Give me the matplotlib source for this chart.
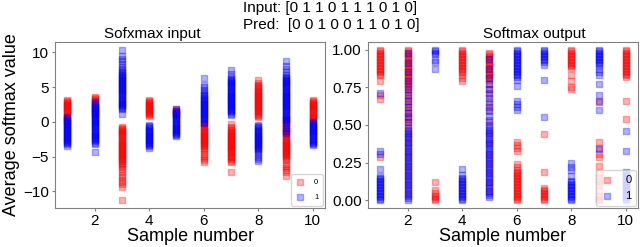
import numpy as np
import matplotlib.pyplot as plt

plt.rcParams['font.family'] = ['Liberation Sans', 'DejaVu Sans']

samples = [1, 2, 3, 4, 5, 6, 7, 8, 9, 10]
true_labels = [0, 1, 1, 0, 1, 1, 1, 0, 1, 0]
pred_labels = [0, 0, 1, 0, 0, 1, 1, 0, 1, 0]

# softmax input (logits) per sample, class 0
logit_0 = [
    [3.1, 3.0, 2.85, 2.7, 2.55, 2.4, 2.25, 2.1, 1.95, 1.8, 1.65, 1.5, 1.35, 1.2, 1.05,
     0.9, 0.75, 0.6, 0.45, 0.3, 0.15, 0.0],
    [3.6, 3.4, 3.25, 3.1, 2.95, 2.8, 2.65, 2.5, 2.35, 2.2, 2.05, 1.9, 1.7, 1.5, 1.3, 1.1],
    [-0.7, -0.9, -1.05, -1.2, -1.35, -1.5, -1.65, -1.8, -1.95, -2.1, -2.25, -2.4, -2.55,
     -2.7, -2.85, -3.0, -3.15, -3.3, -3.45, -3.6, -3.75, -3.9, -4.05, -4.2, -4.35, -4.5,
     -4.65, -4.8, -4.95, -5.1, -5.25, -5.4, -5.55, -5.7, -5.85, -6.0, -6.2, -6.5, -6.8,
     -7.2, -7.6, -8.0, -8.4, -8.6, -8.9, -9.3, -11.3],
    [3.2, 3.05, 2.9, 2.75, 2.6, 2.45, 2.3, 2.15, 2.0, 1.85, 1.7, 1.55, 1.4, 1.25, 1.1,
     0.95, 0.8],
    [1.9, 1.75, 1.6, 1.45, 1.3, 1.15, 1.0],
    [-0.2, -0.35, -0.5, -0.65, -0.8, -0.95, -1.1, -1.25, -1.4, -1.55, -1.7, -1.85, -2.0,
     -2.15, -2.3, -2.45, -2.6, -2.75, -2.9, -3.05, -3.2, -3.35, -3.5, -3.7, -3.9, -4.2,
     -4.6, -4.9, -5.2, -5.5, -5.8],
    [-0.3, -0.8, -0.95, -1.1, -1.25, -1.4, -1.55, -1.7, -1.85, -2.0, -2.15, -2.3, -2.45,
     -2.6, -2.75, -2.9, -3.05, -3.2, -3.35, -3.5, -3.65, -3.8, -3.95, -4.1, -4.25, -4.4,
     -4.55, -4.7, -4.85, -5.0, -5.2, -5.4, -5.6, -5.8, -7.2],
    [6.0, 5.6, 5.3, 5.1, 4.95, 4.8, 4.65, 4.5, 4.35, 4.2, 4.05, 3.9, 3.75, 3.6, 3.45,
     3.3, 3.15, 3.0, 2.85, 2.7, 2.55, 2.4, 2.25, 2.1, 1.95, 1.8, 1.65, 1.5, 1.35, 1.2,
     1.05, 0.9, 0.7],
    [0.4, 0.1, -0.2, -0.5, -0.7, -0.9, -1.05, -1.2, -1.35, -1.5, -1.65, -1.8, -1.95,
     -2.1, -2.25, -2.4, -2.55, -2.7, -2.85, -3.0, -3.15, -3.3, -3.45, -3.6, -3.75, -3.9,
     -4.05, -4.2, -4.35, -4.5, -4.65, -4.8, -4.95, -5.1, -5.3, -5.5, -6.0, -6.3, -6.6,
     -6.9, -7.2, -7.8],
    [3.2, 3.0, 2.85, 2.7, 2.55, 2.4, 2.25, 2.1, 1.95, 1.8, 1.65, 1.5, 1.35, 1.2, 1.05,
     0.9, 0.75, 0.6, 0.45, 0.3, 0.15],
]

# softmax input (logits) per sample, class 1
logit_1 = [
    [0.7, 0.5, 0.3, 0.1, -0.1, -0.25, -0.4, -0.55, -0.7, -0.85, -1.0, -1.15, -1.3, -1.45,
     -1.6, -1.75, -1.9, -2.05, -2.2, -2.35, -2.5, -2.65, -2.8, -2.95, -3.1, -3.25, -3.5],
    [2.9, 2.6, 2.4, 2.2, 2.0, 1.8, 1.6, 1.45, 1.3, 1.15, 1.0, 0.85, 0.7, 0.55, 0.4, 0.25,
     0.1, -0.05, -0.2, -0.35, -0.5, -0.65, -0.8, -0.95, -1.1, -1.25, -1.4, -1.55, -1.7,
     -1.85, -2.0, -2.15, -2.3, -2.45, -2.6, -2.8, -3.0, -3.2, -4.4],
    [10.4, 9.5, 9.0, 8.8, 8.3, 7.9, 7.6, 7.3, 7.1, 6.95, 6.8, 6.65, 6.5, 6.35, 6.2, 6.05,
     5.9, 5.75, 5.6, 5.45, 5.3, 5.15, 5.0, 4.85, 4.7, 4.55, 4.4, 4.25, 4.1, 3.95, 3.8,
     3.65, 3.5, 3.35, 3.2, 3.05, 2.9, 2.75, 2.6, 2.45, 2.3, 2.15, 2.0, 1.8, 1.1],
    [-0.5, -0.65, -0.8, -0.95, -1.1, -1.25, -1.4, -1.55, -1.7, -1.85, -2.0, -2.15, -2.3,
     -2.45, -2.6, -2.75, -2.9, -3.05, -3.2, -3.35, -3.5, -3.7],
    [1.8, 1.6, 1.4, 1.25, 1.1, 0.95, 0.8, 0.65, 0.5, 0.35, 0.2, 0.05, -0.1, -0.25, -0.4,
     -0.55, -0.7, -0.85, -1.0, -1.15, -1.3, -1.45, -1.6, -1.75, -1.9, -2.1],
    [6.3, 5.3, 5.0, 4.6, 4.3, 4.0, 3.8, 3.65, 3.5, 3.35, 3.2, 3.05, 2.9, 2.75, 2.6, 2.45,
     2.3, 2.15, 2.0, 1.85, 1.7, 1.55, 1.4, 1.25, 1.1, 0.95, 0.8, 0.65, 0.5, 0.35, 0.2,
     0.05, -0.1],
    [7.4, 6.9, 6.5, 6.2, 6.0, 5.85, 5.7, 5.55, 5.4, 5.25, 5.1, 4.95, 4.8, 4.65, 4.5, 4.35,
     4.2, 4.05, 3.9, 3.75, 3.6, 3.45, 3.3, 3.15, 3.0, 2.85, 2.7, 2.55, 2.4, 2.25, 2.1,
     1.95, 1.8, 1.65, 1.5, 1.35, 1.2, 1.0],
    [-0.5, -0.65, -0.8, -0.95, -1.1, -1.25, -1.4, -1.55, -1.7, -1.85, -2.0, -2.15, -2.3,
     -2.45, -2.6, -2.75, -2.9, -3.05, -3.2, -3.35, -3.5, -3.65, -3.8, -3.95, -4.1, -4.3,
     -4.6, -5.0, -5.4, -5.7],
    [8.7, 8.1, 7.6, 7.2, 6.8, 6.5, 6.3, 6.15, 6.0, 5.85, 5.7, 5.55, 5.4, 5.25, 5.1, 4.95,
     4.8, 4.65, 4.5, 4.35, 4.2, 4.05, 3.9, 3.75, 3.6, 3.45, 3.3, 3.15, 3.0, 2.85, 2.7,
     2.55, 2.4, 2.25, 2.1, 1.95, 1.8, 1.65, 1.5, 1.35, 1.2, 1.05, 0.9, 0.75, 0.6, 0.45,
     0.3, 0.1, -0.2, -0.5, -0.9, -1.3, -1.6],
    [0.0, -0.15, -0.3, -0.45, -0.6, -0.75, -0.9, -1.05, -1.2, -1.35, -1.5, -1.65, -1.8,
     -1.95, -2.1, -2.25, -2.4, -2.55, -2.7, -2.85, -3.0, -3.15, -3.3],
]

# softmax output per sample, class 0
prob_0 = [
    [1.0, 0.99, 0.98, 0.97, 0.96, 0.95, 0.94, 0.93, 0.92, 0.91, 0.90, 0.89, 0.88, 0.87,
     0.86, 0.85, 0.84, 0.83, 0.79, 0.70, 0.67, 0.29],
    [1.0, 0.99, 0.98, 0.97, 0.96, 0.95, 0.94, 0.93, 0.92, 0.91, 0.90, 0.89, 0.88, 0.87,
     0.86, 0.85, 0.84, 0.83, 0.82, 0.81, 0.80, 0.79, 0.78, 0.77, 0.76, 0.75, 0.74, 0.72,
     0.70, 0.68, 0.66, 0.64, 0.62, 0.60, 0.58, 0.56, 0.54, 0.52, 0.50, 0.46, 0.42, 0.38,
     0.33, 0.28, 0.22, 0.17, 0.11, 0.05],
    [0.12, 0.07, 0.05, 0.03, 0.02, 0.01, 0.0],
    [1.0, 0.99, 0.98, 0.97, 0.96, 0.95, 0.94, 0.93, 0.92, 0.91, 0.90, 0.89, 0.88, 0.87,
     0.86, 0.85, 0.83, 0.81, 0.79],
    [0.98, 0.97, 0.96, 0.95, 0.94, 0.93, 0.92, 0.91, 0.90, 0.89, 0.88, 0.87, 0.86, 0.85,
     0.84, 0.83, 0.82, 0.81, 0.80, 0.77, 0.74, 0.70, 0.64, 0.60, 0.52, 0.45, 0.38, 0.30,
     0.24, 0.19, 0.12, 0.06],
    [0.39, 0.37, 0.35, 0.33, 0.24, 0.22, 0.20, 0.19, 0.18, 0.17, 0.16, 0.15, 0.14, 0.13,
     0.12, 0.11, 0.10, 0.09, 0.08, 0.07, 0.06, 0.05, 0.04, 0.03, 0.02, 0.01, 0.0],
    [0.44, 0.19, 0.08, 0.07, 0.06, 0.05, 0.04, 0.03, 0.02, 0.01, 0.0],
    [1.0, 0.99, 0.98, 0.97, 0.96, 0.95, 0.94, 0.93, 0.92, 0.91, 0.90, 0.89, 0.88, 0.83,
     0.79, 0.75, 0.74],
    [0.66, 0.39, 0.35, 0.31, 0.29, 0.23, 0.18, 0.15, 0.13, 0.10, 0.06, 0.03, 0.01, 0.0],
    [1.0, 0.99, 0.98, 0.97, 0.96, 0.95, 0.94, 0.93, 0.92, 0.91, 0.90, 0.89, 0.88, 0.87,
     0.86, 0.85, 0.84, 0.83, 0.82, 0.66, 0.54],
]

# softmax output per sample, class 1
prob_1 = [
    [0.71, 0.33, 0.31, 0.21, 0.16, 0.15, 0.14, 0.13, 0.12, 0.11, 0.10, 0.09, 0.08, 0.07,
     0.06, 0.05, 0.04, 0.03, 0.02, 0.01, 0.0],
    [0.98, 0.91, 0.85, 0.79, 0.74, 0.70, 0.66, 0.62, 0.58, 0.55, 0.52,
     0.48, 0.465, 0.45, 0.435, 0.42, 0.405, 0.39, 0.375, 0.36, 0.345, 0.33, 0.315, 0.30,
     0.285, 0.27, 0.255, 0.24, 0.225, 0.21, 0.195, 0.18, 0.165, 0.15, 0.135, 0.12, 0.105,
     0.09, 0.075, 0.06, 0.045, 0.03, 0.015, 0.0],
    [1.0, 0.99, 0.98, 0.97, 0.93, 0.92, 0.87],
    [0.21, 0.17, 0.15, 0.14, 0.13, 0.12, 0.11, 0.10, 0.09, 0.08, 0.07, 0.06, 0.05, 0.04,
     0.03, 0.02, 0.01, 0.0],
    [0.94, 0.87, 0.81, 0.77, 0.74, 0.71, 0.68, 0.65, 0.62, 0.59, 0.56, 0.53,
     0.50, 0.485, 0.47, 0.455, 0.44, 0.425, 0.41, 0.395, 0.38, 0.365, 0.35, 0.335,
     0.32, 0.305, 0.29, 0.275, 0.26, 0.245, 0.23, 0.215, 0.20, 0.185, 0.17, 0.155, 0.14,
     0.125, 0.11, 0.095, 0.08, 0.065, 0.05, 0.035, 0.02],
    [1.0, 0.99, 0.98, 0.97, 0.96, 0.95, 0.94, 0.93, 0.92, 0.91, 0.90, 0.89, 0.88, 0.87,
     0.86, 0.85, 0.84, 0.83, 0.82, 0.80, 0.76, 0.66, 0.64, 0.62, 0.60],
    [1.0, 0.99, 0.98, 0.97, 0.96, 0.95, 0.94, 0.93, 0.92, 0.90, 0.80, 0.55],
    [0.25, 0.22, 0.20, 0.16, 0.13, 0.12, 0.11, 0.10, 0.09, 0.08, 0.07, 0.06, 0.05, 0.04,
     0.03, 0.02, 0.01, 0.0],
    [1.0, 0.99, 0.98, 0.97, 0.96, 0.95, 0.94, 0.93, 0.92, 0.91, 0.90, 0.87, 0.85, 0.83,
     0.77, 0.70, 0.65, 0.60, 0.34],
    [0.46, 0.33, 0.19, 0.18, 0.17, 0.16, 0.15, 0.14, 0.13, 0.12, 0.11, 0.10, 0.09, 0.08,
     0.07, 0.06, 0.05, 0.04, 0.03, 0.02, 0.01, 0.0],
]


def draw_panel(ax, vals0, vals1, title, title_x):
    for i, s in enumerate(samples):
        ax.scatter([s] * len(vals0[i]), vals0[i], marker="s", s=16, color="red", alpha=0.3,
                   label="0" if i == 0 else None)
    for i, s in enumerate(samples):
        ax.scatter([s] * len(vals1[i]), vals1[i], marker="s", s=16, color="blue", alpha=0.3,
                   label="1" if i == 0 else None)
    ax.set_title(title, fontsize=11, pad=3, x=title_x)
    ax.set_xlabel("Sample number", fontsize=13, labelpad=0)
    ax.set_xticks([2, 4, 6, 8, 10])
    ax.tick_params(labelsize=11, length=2.5, color="gray", pad=2)
    for sp in ax.spines.values():
        sp.set_color("gray")


fig = plt.figure(figsize=(6.4, 2.47), dpi=100)
ax1 = fig.add_axes([0.086, 0.158, 0.422, 0.672])
ax2 = fig.add_axes([0.575, 0.158, 0.422, 0.672])

draw_panel(ax1, logit_0, logit_1, "Sofxmax input", 0.36)
ax1.set_ylabel("Average softmax value", fontsize=13, labelpad=2)
ax1.set_yticks([-10, -5, 0, 5, 10])
ax1.legend(loc="lower right", fontsize=5.5, markerscale=1.2, handlelength=1.2,
           handletextpad=1.2, labelspacing=1.0, borderpad=0.6, borderaxespad=0.3)

draw_panel(ax2, prob_0, prob_1, "Softmax output", 0.615)
ax2.legend(loc="lower right", fontsize=8, handlelength=1.2, handletextpad=1.0,
           labelspacing=0.6, borderpad=0.4, borderaxespad=0.2)

inp = " ".join(str(v) for v in true_labels)
prd = " ".join(str(v) for v in pred_labels)
fig.text(0.517, 0.995, "Input: [" + inp + "]\nPred:  [" + prd + "]",
         ha="center", va="top", fontsize=11, multialignment="left", linespacing=1.25)

fig.savefig("out.png", dpi=100)
